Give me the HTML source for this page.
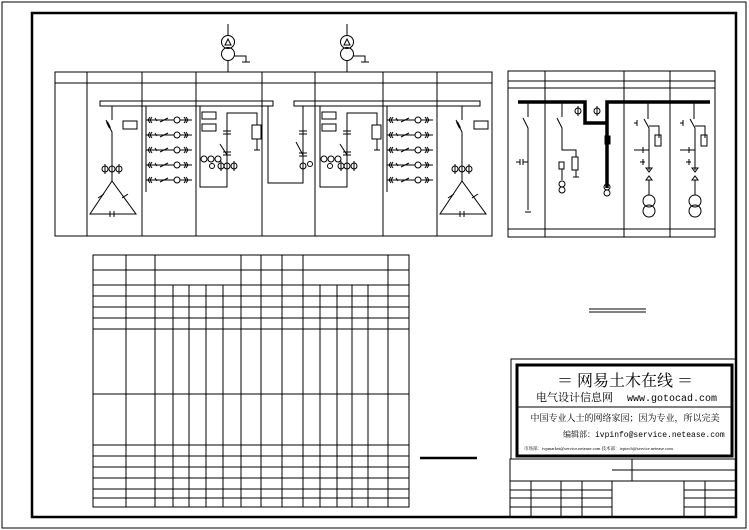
<!DOCTYPE html>
<html><head><meta charset="utf-8"><style>
html,body{margin:0;padding:0;background:#fff;width:749px;height:530px;overflow:hidden}
svg{display:block}
text{font-family:"Liberation Serif","Noto Serif CJK SC",serif;fill:#000}
text.mono{font-family:"Liberation Mono","Noto Sans CJK SC",monospace}
</style></head><body>
<svg width="749" height="530" viewBox="0 0 749 530" xmlns="http://www.w3.org/2000/svg" fill="none" stroke="#000" stroke-width="1">
<defs>
<g id="feeder">
 <line x1="0" y1="0" x2="46" y2="0"/>
 <path d="M4,-3 L2,0 L4,3 M6,-3 L4,0 L6,3"/>
 <path d="M9,-2 L11,1"/>
 <path d="M14,2 L22,-2"/>
 <circle cx="31" cy="0" r="3" fill="#fff"/>
 <path d="M38,-3 L40,0 L38,3 M40,-3 L42,0 L40,3"/>
</g>
<g id="phi"><circle cx="0" cy="0" r="3"/><line x1="0" y1="-5" x2="0" y2="5"/></g>
<g id="tri">
 <path d="M0,0 L-22,33 L24,33 Z"/>
 <line x1="-14" y1="17" x2="-8" y2="13"/><line x1="10" y1="17" x2="16" y2="13"/>
 <line x1="-2" y1="30" x2="-2" y2="36"/><line x1="2" y1="30" x2="2" y2="36"/>
</g>
</defs>
<rect x="2" y="2" width="744" height="526"/>
<rect x="32" y="13" width="704" height="504" stroke-width="2.5"/>

<g>
 <line x1="228" y1="24" x2="228" y2="36"/><circle cx="228" cy="42" r="6.5"/><circle cx="228" cy="54" r="6.5"/><path d="M225,45 L228,39 L231,45 Z"/>
 <line x1="228" y1="60" x2="228" y2="72"/><path d="M234,56 L246,56 L246,62 M242,62 L250,62"/>
 <line x1="347" y1="24" x2="347" y2="36"/><circle cx="347" cy="42" r="6.5"/><circle cx="347" cy="54" r="6.5"/><path d="M344,45 L347,39 L350,45 Z"/>
 <line x1="347" y1="60" x2="347" y2="72"/><path d="M353,56 L365,56 L365,62 M361,62 L369,62"/>
</g>

<rect x="55" y="72" width="437" height="164"/>
<line x1="55" y1="83" x2="492" y2="83"/>
<g>
 <line x1="87" y1="72" x2="87" y2="236"/><line x1="142" y1="72" x2="142" y2="236"/>
 <line x1="196" y1="72" x2="196" y2="236"/><line x1="262" y1="72" x2="262" y2="236"/>
 <line x1="315" y1="72" x2="315" y2="236"/><line x1="383" y1="72" x2="383" y2="236"/>
 <line x1="437" y1="72" x2="437" y2="236"/>
</g>
<rect x="100" y="101" width="173" height="5"/>
<rect x="294" y="101" width="186" height="5"/>
<path d="M112,106 L112,120 M106,120 L112,132 L112,181"/><path d="M107,122 L110,128" stroke-width="2"/>
<rect x="123" y="121" width="14" height="8"/>
<use href="#phi" x="105" y="169"/><circle cx="112" cy="169" r="3"/><use href="#phi" x="119" y="169"/>
<use href="#tri" x="112" y="181"/>
<path d="M462,106 L462,120 M456,120 L462,132 L462,181"/><path d="M457,122 L460,128" stroke-width="2"/>
<rect x="474" y="121" width="14" height="8"/>
<use href="#phi" x="455" y="169"/><circle cx="462" cy="169" r="3"/><use href="#phi" x="469" y="169"/>
<use href="#tri" x="462" y="181"/>
<line x1="146" y1="106" x2="146" y2="192"/>
<use href="#feeder" x="146" y="120"/><use href="#feeder" x="146" y="135"/><use href="#feeder" x="146" y="150"/><use href="#feeder" x="146" y="165"/><use href="#feeder" x="146" y="180"/>
<line x1="387" y1="106" x2="387" y2="192"/>
<use href="#feeder" x="387" y="120"/><use href="#feeder" x="387" y="135"/><use href="#feeder" x="387" y="150"/><use href="#feeder" x="387" y="165"/><use href="#feeder" x="387" y="180"/>
<rect x="202" y="112" width="14" height="7"/><rect x="202" y="124" width="14" height="7"/>
<path d="M200,106 L200,187 L227,187 L227,113 L257,113 L257,125"/>
<rect x="252" y="125" width="9" height="14"/><path d="M257,139 L257,150 M254,150 L260,150"/>
<path d="M223,131 L231,131 M223,134 L231,134 M220,144 L227,155 M223,152 L231,152 M223,155 L231,155"/>
<circle cx="204" cy="159" r="3"/><circle cx="211" cy="159" r="3"/><circle cx="218" cy="159" r="3"/>
<circle cx="212" cy="166" r="2.5"/><use href="#phi" x="221" y="166"/><circle cx="227" cy="166" r="3"/><use href="#phi" x="234" y="166"/>
<rect x="322" y="112" width="14" height="7"/><rect x="322" y="124" width="14" height="7"/>
<path d="M320,106 L320,187 L347,187 L347,113 L377,113 L377,125"/>
<rect x="372" y="125" width="9" height="14"/><path d="M377,139 L377,150 M374,150 L380,150"/>
<path d="M343,131 L351,131 M343,134 L351,134 M340,144 L347,155 M343,152 L351,152 M343,155 L351,155"/>
<circle cx="324" cy="159" r="3"/><circle cx="331" cy="159" r="3"/><circle cx="338" cy="159" r="3"/>
<circle cx="330" cy="166" r="2.5"/><use href="#phi" x="341" y="166"/><circle cx="347" cy="166" r="3"/><use href="#phi" x="354" y="166"/>
<path d="M268,106 L268,183 L303,183 L303,106"/>
<path d="M299,131 L307,131 M299,134 L307,134 M296,142 L303,155 M299,153 L307,153 M299,156 L307,156"/>
<circle cx="303" cy="166" r="3"/><circle cx="310" cy="164" r="2.5"/>

<rect x="508" y="71" width="207" height="166"/>
<line x1="508" y1="81" x2="715" y2="81"/><line x1="508" y1="88" x2="715" y2="88"/><line x1="508" y1="229" x2="715" y2="229"/>
<line x1="545" y1="71" x2="545" y2="237"/><line x1="624" y1="71" x2="624" y2="237"/><line x1="670" y1="71" x2="670" y2="237"/>
<path d="M518,102 L585,102 L585,123 L607,123 L607,102 L710,102 M607,102 L607,188" stroke-width="3.5"/>
<rect x="605" y="136" width="5" height="8" fill="#000"/>
<circle cx="607" cy="187" r="3"/><circle cx="607" cy="193" r="3"/>
<path d="M528,102 L528,117 M523,118 L528,128 L528,210 M525,212 L531,212"/>
<path d="M516,162 L520,162 M520,159 L520,165 M523,159 L523,165 M523,162 L528,162"/>
<path d="M562,102 L562,117 M557,118 L562,128 L562,150 L576,150 L576,157"/>
<rect x="572" y="157" width="6" height="13"/><path d="M576,170 L576,177 M573,177 L579,177"/>
<rect x="559" y="162" width="5" height="7"/><line x1="562" y1="169" x2="562" y2="180"/>
<circle cx="562" cy="184" r="3"/><circle cx="562" cy="190" r="3"/>
<use href="#phi" x="578" y="111"/><use href="#phi" x="597" y="111"/>
<g>
 <path d="M648,102 L648,119 M644,119 L649,128 L649,170 M649,126 L659,126 L659,138"/>
 <rect x="655" y="135" width="6" height="11"/>
 <path d="M634,123 L637,123 M637,120 L637,126 M634,150 L643,150 M643,147 L643,153 M643,150 L649,150"/>
 <path d="M640,162 L645,162 M643,159 L643,165"/>
 <path d="M646,168 L649,172 L652,168 Z M646,180 L649,176 L652,180 Z"/>
 <line x1="649" y1="180" x2="649" y2="195"/><circle cx="649" cy="201" r="6"/><circle cx="649" cy="211" r="6"/>
</g>
<g transform="translate(46,0)">
 <path d="M648,102 L648,119 M644,119 L649,128 L649,170 M649,126 L659,126 L659,138"/>
 <rect x="655" y="135" width="6" height="11"/>
 <path d="M634,123 L637,123 M637,120 L637,126 M634,150 L643,150 M643,147 L643,153 M643,150 L649,150"/>
 <path d="M640,162 L645,162 M643,159 L643,165"/>
 <path d="M646,168 L649,172 L652,168 Z M646,180 L649,176 L652,180 Z"/>
 <line x1="649" y1="180" x2="649" y2="195"/><circle cx="649" cy="201" r="6"/><circle cx="649" cy="211" r="6"/>
</g>

<g>
 <rect x="93" y="255" width="316" height="252"/>
 <path d="M93,270 H409 M93,285 H409 M93,296 H409 M93,307 H409 M93,318 H409 M93,329 H409 M93,394 H409 M93,445 H409 M93,456 H409 M93,467 H409 M93,478 H409 M93,489 H409 M93,498 H409"/>
 <path d="M126,255 V507 M155,255 V507 M241,255 V507 M261,255 V507 M282,255 V507 M303,255 V507 M388,255 V507"/>
 <path d="M173,285 V507 M189,285 V507 M206,285 V507 M223,285 V507 M320,285 V507 M337,285 V507 M352,285 V507 M368,285 V507"/>
</g>

<line x1="589" y1="309" x2="646" y2="309"/><line x1="589" y1="312" x2="646" y2="312"/>
<line x1="420" y1="458" x2="477" y2="458" stroke-width="2.5"/>

<rect x="511" y="359" width="225" height="100"/>
<rect x="517" y="365" width="215" height="91" stroke-width="3"/>
<line x1="517" y1="407" x2="732" y2="407"/>
<text x="625" y="386" text-anchor="middle" font-size="16" stroke="none" fill="#222">＝  网易土木在线  ＝</text>
<text x="536" y="401" font-size="11" stroke="none" fill="#222">电气设计信息网</text>
<text x="627" y="401" class="mono" font-size="10" stroke="none">www.gotocad.com</text>
<text x="625" y="421" text-anchor="middle" font-size="9" stroke="none" fill="#444">中国专业人士的网络家园；因为专业，所以完美</text>
<text x="563" y="437" font-size="8" stroke="none" fill="#444">编辑部：</text>
<text x="595" y="437" class="mono" font-size="8" stroke="none">ivpinfo@service.netease.com</text>
<text x="524" y="450" font-size="4.5" stroke="none" fill="#333">市场部：ivpmarket@service.netease.com  技术部：ivptech@service.netease.com</text>

<rect x="510" y="459" width="226" height="58"/>
<path d="M510,481 H612 M612,470 H736 M612,481 V517 M632,459 V481 M612,481 H736"/>
<path d="M510,490 H612 M510,498 H612 M510,507 H612 M684,490 H736 M684,498 H736 M684,507 H736"/>
<path d="M531,481 V517 M561,481 V517 M582,481 V517 M684,481 V517 M705,481 V517"/>
</svg>
</body></html>
